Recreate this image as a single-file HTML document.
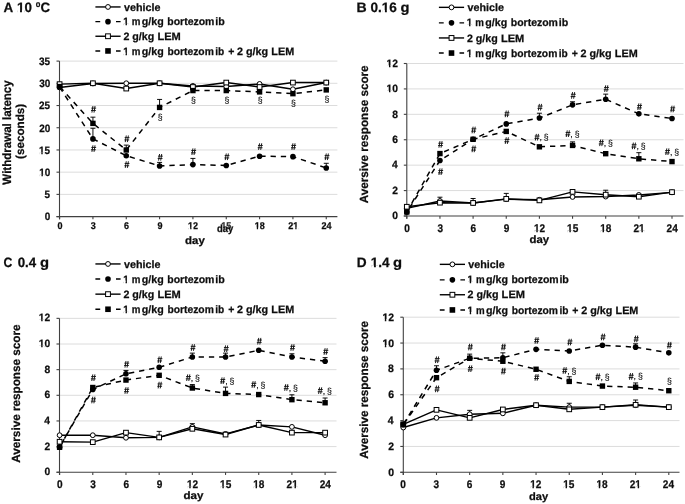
<!DOCTYPE html>
<html><head><meta charset="utf-8"><style>
html,body{margin:0;padding:0;background:#fff;}
body{width:685px;height:504px;overflow:hidden;}
#w{width:685px;height:504px;background:#fff;will-change:transform;}
svg{display:block;}
text{font-family:"Liberation Sans", sans-serif;fill:#0d0d0d;text-rendering:geometricPrecision;}
.tk,.lg,.ti,.at{font-weight:bold;stroke:#0d0d0d;stroke-width:0.25px;}
.an{font-size:8.7px;fill:#1a1a1a;stroke:#1a1a1a;stroke-width:0.2px;}
.gr{stroke:#dcdcdc;stroke-width:1;}
.ax{stroke:#404040;stroke-width:1.1;fill:none;}
.sl{fill:none;stroke:#000;stroke-width:1.45;stroke-linejoin:round;}
.dl{fill:none;stroke:#000;stroke-width:1.5;stroke-dasharray:5.3 4.95;}
.eb{fill:none;stroke:#000;stroke-width:0.95;}
.wm{fill:#fff;stroke:#000;stroke-width:1;}
.lgl{fill:none;stroke:#000;stroke-width:1.4;}
</style></head><body><div id="w">
<svg width="685" height="504" viewBox="0 0 685 504">
<defs><symbol id="hs" overflow="visible"><path d="M-0.6 -3.3L-1.6 3.3M1.5 -3.3L0.5 3.3M-2.2 -1.15H2.6M-2.5 1.15H2.3" fill="none" stroke="#111" stroke-width="0.95"/></symbol></defs>
<rect width="685" height="504" fill="#fff"/>
<line x1="60.1" y1="194.39" x2="337.4" y2="194.39" class="gr"/>
<line x1="60.1" y1="172.17" x2="337.4" y2="172.17" class="gr"/>
<line x1="60.1" y1="149.96" x2="337.4" y2="149.96" class="gr"/>
<line x1="60.1" y1="127.74" x2="337.4" y2="127.74" class="gr"/>
<line x1="60.1" y1="105.53" x2="337.4" y2="105.53" class="gr"/>
<line x1="60.1" y1="83.31" x2="337.4" y2="83.31" class="gr"/>
<line x1="60.1" y1="61.1" x2="337.4" y2="61.1" class="gr"/>
<line x1="59.5" y1="61.1" x2="59.5" y2="219.3" class="ax"/>
<line x1="56.5" y1="216.6" x2="337.4" y2="216.6" class="ax"/>
<line x1="56.5" y1="216.6" x2="59.5" y2="216.6" class="ax"/>
<text x="44.68" y="220.44" class="tk" font-size="10.7" textLength="5.53" lengthAdjust="spacingAndGlyphs">0</text>
<line x1="56.5" y1="194.39" x2="59.5" y2="194.39" class="ax"/>
<text x="44.53" y="198.23" class="tk" font-size="10.7" textLength="5.53" lengthAdjust="spacingAndGlyphs">5</text>
<line x1="56.5" y1="172.17" x2="59.5" y2="172.17" class="ax"/>
<text x="39.15" y="176.02" class="tk" font-size="10.7" textLength="11.07" lengthAdjust="spacingAndGlyphs">10</text><rect x="39.33" y="174.51" width="2.13" height="2.49" fill="#fff"/><rect x="42.86" y="174.51" width="2" height="2.49" fill="#fff"/>
<line x1="56.5" y1="149.96" x2="59.5" y2="149.96" class="ax"/>
<text x="39" y="153.8" class="tk" font-size="10.7" textLength="11.07" lengthAdjust="spacingAndGlyphs">15</text><rect x="39.18" y="152.31" width="2.13" height="2.69" fill="#fff"/><rect x="42.71" y="152.31" width="2" height="2.69" fill="#fff"/>
<line x1="56.5" y1="127.74" x2="59.5" y2="127.74" class="ax"/>
<text x="39.15" y="131.59" class="tk" font-size="10.7" textLength="11.07" lengthAdjust="spacingAndGlyphs">20</text>
<line x1="56.5" y1="105.53" x2="59.5" y2="105.53" class="ax"/>
<text x="39" y="109.37" class="tk" font-size="10.7" textLength="11.07" lengthAdjust="spacingAndGlyphs">25</text>
<line x1="56.5" y1="83.31" x2="59.5" y2="83.31" class="ax"/>
<text x="39.15" y="87.16" class="tk" font-size="10.7" textLength="11.07" lengthAdjust="spacingAndGlyphs">30</text>
<line x1="56.5" y1="61.1" x2="59.5" y2="61.1" class="ax"/>
<text x="39" y="64.94" class="tk" font-size="10.7" textLength="11.07" lengthAdjust="spacingAndGlyphs">35</text>
<line x1="59.6" y1="216.6" x2="59.6" y2="219.3" class="ax"/>
<text x="57.4" y="229.13" class="tk" font-size="9.8" textLength="5.01" lengthAdjust="spacingAndGlyphs">0</text>
<line x1="92.93" y1="216.6" x2="92.93" y2="219.3" class="ax"/>
<text x="90.77" y="229.13" class="tk" font-size="9.8" textLength="5.01" lengthAdjust="spacingAndGlyphs">3</text>
<line x1="126.26" y1="216.6" x2="126.26" y2="219.3" class="ax"/>
<text x="124.06" y="229.13" class="tk" font-size="9.8" textLength="5.01" lengthAdjust="spacingAndGlyphs">6</text>
<line x1="159.59" y1="216.6" x2="159.59" y2="219.3" class="ax"/>
<text x="157.39" y="229.13" class="tk" font-size="9.8" textLength="5.01" lengthAdjust="spacingAndGlyphs">9</text>
<line x1="192.92" y1="216.6" x2="192.92" y2="219.3" class="ax"/>
<text x="188.11" y="229.13" class="tk" font-size="9.8" textLength="10.03" lengthAdjust="spacingAndGlyphs">12</text><rect x="188.23" y="227.6" width="1.97" height="3.4" fill="#fff"/><rect x="191.47" y="227.6" width="1.85" height="3.4" fill="#fff"/>
<line x1="226.26" y1="216.6" x2="226.26" y2="219.3" class="ax"/>
<text x="221.37" y="229.13" class="tk" style="fill:#333;stroke:#333" font-size="9.8" textLength="10.03" lengthAdjust="spacingAndGlyphs">15</text><rect x="221.49" y="227.6" width="1.97" height="3.4" fill="#fff"/><rect x="224.73" y="227.6" width="1.85" height="3.4" fill="#fff"/>
<line x1="259.59" y1="216.6" x2="259.59" y2="219.3" class="ax"/>
<text x="254.73" y="229.13" class="tk" font-size="9.8" textLength="10.03" lengthAdjust="spacingAndGlyphs">18</text><rect x="254.84" y="227.6" width="1.97" height="3.4" fill="#fff"/><rect x="258.09" y="227.6" width="1.85" height="3.4" fill="#fff"/>
<line x1="292.92" y1="216.6" x2="292.92" y2="219.3" class="ax"/>
<text x="288.17" y="229.13" class="tk" font-size="9.8" textLength="10.03" lengthAdjust="spacingAndGlyphs">21</text><rect x="293.3" y="227.6" width="1.97" height="3.4" fill="#fff"/><rect x="296.55" y="227.6" width="1.85" height="3.4" fill="#fff"/>
<line x1="326.25" y1="216.6" x2="326.25" y2="219.3" class="ax"/>
<text x="321.41" y="229.13" class="tk" font-size="9.8" textLength="10.03" lengthAdjust="spacingAndGlyphs">24</text>
<polyline points="59.6,87.46 92.93,83.47 126.26,83.25 159.59,83.25 192.92,85.91 226.26,86.58 259.59,83.91 292.92,89.24 326.25,82.58" class="sl"/>
<polyline points="59.6,84.14 92.93,83.25 126.26,88.57 159.59,83.25 192.92,87.02 226.26,82.58 259.59,87.02 292.92,82.58 326.25,82.58" class="sl"/>
<polyline points="59.6,87.02 92.93,138.9 126.26,155.75 159.59,165.95 192.92,164.62 226.26,165.51 259.59,156.19 292.92,156.64 326.25,167.94" class="dl" stroke-dashoffset="10.08"/>
<polyline points="59.6,86.58 92.93,123.38 126.26,149.99 159.59,107.42 192.92,90.57 226.26,90.57 259.59,91.9 292.92,93.67 326.25,89.9" class="dl" stroke-dashoffset="9.78"/>
<path d="M92.93 138.9V128.26M90.43 128.26H95.43" class="eb"/>
<path d="M159.59 165.95V162.4M157.09 162.4H162.09" class="eb"/>
<path d="M192.92 164.62V158.41M190.42 158.41H195.42" class="eb"/>
<path d="M326.25 167.94V163.29M323.75 163.29H328.75" class="eb"/>
<path d="M92.93 123.38V117.17M90.43 117.17H95.43" class="eb"/>
<path d="M126.26 149.99V145.11M123.76 145.11H128.76" class="eb"/>
<path d="M159.59 107.42V99.43M157.09 99.43H162.09" class="eb"/>
<circle cx="59.6" cy="87.46" r="2.4" class="wm"/>
<circle cx="92.93" cy="83.47" r="2.4" class="wm"/>
<circle cx="126.26" cy="83.25" r="2.4" class="wm"/>
<circle cx="159.59" cy="83.25" r="2.4" class="wm"/>
<circle cx="192.92" cy="85.91" r="2.4" class="wm"/>
<circle cx="226.26" cy="86.58" r="2.4" class="wm"/>
<circle cx="259.59" cy="83.91" r="2.4" class="wm"/>
<circle cx="292.92" cy="89.24" r="2.4" class="wm"/>
<circle cx="326.25" cy="82.58" r="2.4" class="wm"/>
<rect x="57.25" y="81.79" width="4.7" height="4.7" class="wm"/>
<rect x="90.58" y="80.9" width="4.7" height="4.7" class="wm"/>
<rect x="123.91" y="86.22" width="4.7" height="4.7" class="wm"/>
<rect x="157.24" y="80.9" width="4.7" height="4.7" class="wm"/>
<rect x="190.57" y="84.67" width="4.7" height="4.7" class="wm"/>
<rect x="223.91" y="80.23" width="4.7" height="4.7" class="wm"/>
<rect x="257.24" y="84.67" width="4.7" height="4.7" class="wm"/>
<rect x="290.57" y="80.23" width="4.7" height="4.7" class="wm"/>
<rect x="323.9" y="80.23" width="4.7" height="4.7" class="wm"/>
<circle cx="59.6" cy="87.02" r="2.8"/>
<circle cx="92.93" cy="138.9" r="2.8"/>
<circle cx="126.26" cy="155.75" r="2.8"/>
<circle cx="159.59" cy="165.95" r="2.8"/>
<circle cx="192.92" cy="164.62" r="2.8"/>
<circle cx="226.26" cy="165.51" r="2.8"/>
<circle cx="259.59" cy="156.19" r="2.8"/>
<circle cx="292.92" cy="156.64" r="2.8"/>
<circle cx="326.25" cy="167.94" r="2.8"/>
<rect x="56.9" y="83.88" width="5.4" height="5.4"/>
<rect x="90.23" y="120.68" width="5.4" height="5.4"/>
<rect x="123.56" y="147.29" width="5.4" height="5.4"/>
<rect x="156.89" y="104.72" width="5.4" height="5.4"/>
<rect x="190.22" y="87.87" width="5.4" height="5.4"/>
<rect x="223.56" y="87.87" width="5.4" height="5.4"/>
<rect x="256.89" y="89.2" width="5.4" height="5.4"/>
<rect x="290.22" y="90.97" width="5.4" height="5.4"/>
<rect x="323.55" y="87.2" width="5.4" height="5.4"/>
<use href="#hs" x="93.53" y="109.3"/>
<use href="#hs" x="93.53" y="148.6"/>
<use href="#hs" x="126.86" y="138.8"/>
<use href="#hs" x="126.86" y="164.6"/>
<use href="#hs" x="160.19" y="157.3"/>
<text x="160.19" y="119.8" class="an" text-anchor="middle">§</text>
<use href="#hs" x="193.52" y="151.7"/>
<use href="#hs" x="226.86" y="156.8"/>
<use href="#hs" x="260.19" y="146.6"/>
<use href="#hs" x="293.52" y="146.6"/>
<use href="#hs" x="326.85" y="156.8"/>
<text x="193.52" y="103.1" class="an" text-anchor="middle">§</text>
<text x="226.86" y="103.3" class="an" text-anchor="middle">§</text>
<text x="260.19" y="103.2" class="an" text-anchor="middle">§</text>
<text x="293.52" y="105.7" class="an" text-anchor="middle">§</text>
<text x="326.85" y="102" class="an" text-anchor="middle">§</text>
<line x1="95.4" y1="6.95" x2="120.6" y2="6.95" class="lgl"/>
<circle cx="108" cy="6.95" r="2.4" class="wm"/>
<text x="124" y="10.5" class="lg" font-size="10.7" textLength="36.44" lengthAdjust="spacingAndGlyphs">vehicle</text>
<path d="M95.4 21.65H100.2M116 21.65H120.6" class="lgl"/>
<circle cx="108" cy="21.65" r="2.8"/>
<text x="123.26" y="25.2" class="lg" font-size="10.7" textLength="5.5" lengthAdjust="spacingAndGlyphs">1</text><rect x="123.43" y="23.51" width="2.12" height="3.49" fill="#fff"/><rect x="126.94" y="23.51" width="1.99" height="3.49" fill="#fff"/>
<text x="131.72" y="25.2" class="lg" font-size="10.7" textLength="8.66" lengthAdjust="spacingAndGlyphs">m</text>
<text x="141.82" y="25.2" class="lg" font-size="10.7" textLength="21.93" lengthAdjust="spacingAndGlyphs">g/kg</text>
<text x="167.27" y="25.2" class="lg" font-size="10.7" textLength="47.16" lengthAdjust="spacingAndGlyphs">bortezom</text>
<text x="215.21" y="25.2" class="lg" font-size="10.7" textLength="9.46" lengthAdjust="spacingAndGlyphs">ib</text>
<line x1="95.4" y1="36.25" x2="120.6" y2="36.25" class="lgl"/>
<rect x="105.6" y="33.85" width="4.8" height="4.8" class="wm"/>
<text x="123.38" y="39.8" class="lg" font-size="10.7" textLength="30.86" lengthAdjust="spacingAndGlyphs">2 g/kg</text>
<text x="157.43" y="39.8" class="lg" font-size="10.7" textLength="23.35" lengthAdjust="spacingAndGlyphs">LEM</text>
<path d="M95.4 50.95H100.2M116 50.95H120.6" class="lgl"/>
<rect x="105.2" y="48.15" width="5.6" height="5.6"/>
<text x="123.26" y="54.5" class="lg" font-size="10.7" textLength="5.5" lengthAdjust="spacingAndGlyphs">1</text><rect x="123.43" y="52.51" width="2.12" height="3.49" fill="#fff"/><rect x="126.94" y="52.51" width="1.99" height="3.49" fill="#fff"/>
<text x="131.72" y="54.5" class="lg" font-size="10.7" textLength="8.66" lengthAdjust="spacingAndGlyphs">m</text>
<text x="141.82" y="54.5" class="lg" font-size="10.7" textLength="21.93" lengthAdjust="spacingAndGlyphs">g/kg</text>
<text x="167.48" y="54.5" class="lg" font-size="10.7" textLength="46.34" lengthAdjust="spacingAndGlyphs">bortezom</text>
<text x="215.24" y="54.5" class="lg" font-size="10.7" textLength="9" lengthAdjust="spacingAndGlyphs">ib</text>
<text x="228.13" y="54.5" class="lg" font-size="10.7" textLength="6.13" lengthAdjust="spacingAndGlyphs">+</text>
<text x="236.97" y="54.5" class="lg" font-size="10.7" textLength="31.18" lengthAdjust="spacingAndGlyphs">2 g/kg</text>
<text x="271.35" y="54.5" class="lg" font-size="10.7" textLength="22.82" lengthAdjust="spacingAndGlyphs">LEM</text>
<line x1="407.4" y1="190.58" x2="683.5" y2="190.58" class="gr"/>
<line x1="407.4" y1="165.17" x2="683.5" y2="165.17" class="gr"/>
<line x1="407.4" y1="139.75" x2="683.5" y2="139.75" class="gr"/>
<line x1="407.4" y1="114.33" x2="683.5" y2="114.33" class="gr"/>
<line x1="407.4" y1="88.92" x2="683.5" y2="88.92" class="gr"/>
<line x1="407.4" y1="63.5" x2="683.5" y2="63.5" class="gr"/>
<line x1="406.8" y1="63.5" x2="406.8" y2="218.7" class="ax"/>
<line x1="403.8" y1="216" x2="683.5" y2="216" class="ax"/>
<line x1="403.8" y1="216" x2="406.8" y2="216" class="ax"/>
<text x="392.3" y="219.21" class="tk" font-size="10.6" textLength="5.72" lengthAdjust="spacingAndGlyphs">0</text>
<line x1="403.8" y1="190.58" x2="406.8" y2="190.58" class="ax"/>
<text x="392.3" y="193.79" class="tk" font-size="10.6" textLength="5.72" lengthAdjust="spacingAndGlyphs">2</text>
<line x1="403.8" y1="165.17" x2="406.8" y2="165.17" class="ax"/>
<text x="391.94" y="168.38" class="tk" font-size="10.6" textLength="5.72" lengthAdjust="spacingAndGlyphs">4</text>
<line x1="403.8" y1="139.75" x2="406.8" y2="139.75" class="ax"/>
<text x="392.25" y="142.96" class="tk" font-size="10.6" textLength="5.72" lengthAdjust="spacingAndGlyphs">6</text>
<line x1="403.8" y1="114.33" x2="406.8" y2="114.33" class="ax"/>
<text x="392.2" y="117.54" class="tk" font-size="10.6" textLength="5.72" lengthAdjust="spacingAndGlyphs">8</text>
<line x1="403.8" y1="88.92" x2="406.8" y2="88.92" class="ax"/>
<text x="386.6" y="92.13" class="tk" font-size="10.6" textLength="11.44" lengthAdjust="spacingAndGlyphs">10</text><rect x="386.8" y="90.52" width="2.18" height="3.48" fill="#fff"/><rect x="390.43" y="90.52" width="2.05" height="3.48" fill="#fff"/>
<line x1="403.8" y1="63.5" x2="406.8" y2="63.5" class="ax"/>
<text x="386.6" y="66.71" class="tk" font-size="10.6" textLength="11.44" lengthAdjust="spacingAndGlyphs">12</text><rect x="386.8" y="65.23" width="2.18" height="2.77" fill="#fff"/><rect x="390.43" y="65.23" width="2.05" height="2.77" fill="#fff"/>
<line x1="406.8" y1="216" x2="406.8" y2="218.7" class="ax"/>
<text x="404.3" y="232.02" class="tk" font-size="11.2" textLength="5.61" lengthAdjust="spacingAndGlyphs">0</text>
<line x1="439.95" y1="216" x2="439.95" y2="218.7" class="ax"/>
<text x="437.5" y="232.02" class="tk" font-size="11.2" textLength="5.61" lengthAdjust="spacingAndGlyphs">3</text>
<line x1="473.1" y1="216" x2="473.1" y2="218.7" class="ax"/>
<text x="470.6" y="232.02" class="tk" font-size="11.2" textLength="5.61" lengthAdjust="spacingAndGlyphs">6</text>
<line x1="506.25" y1="216" x2="506.25" y2="218.7" class="ax"/>
<text x="503.75" y="232.02" class="tk" font-size="11.2" textLength="5.61" lengthAdjust="spacingAndGlyphs">9</text>
<line x1="539.4" y1="216" x2="539.4" y2="218.7" class="ax"/>
<text x="533.98" y="232.02" class="tk" font-size="11.2" textLength="11.21" lengthAdjust="spacingAndGlyphs">12</text><rect x="534.16" y="230.46" width="2.15" height="2.54" fill="#fff"/><rect x="537.74" y="230.46" width="2.02" height="2.54" fill="#fff"/>
<line x1="572.55" y1="216" x2="572.55" y2="218.7" class="ax"/>
<text x="567.05" y="232.02" class="tk" font-size="11.2" textLength="11.21" lengthAdjust="spacingAndGlyphs">15</text><rect x="567.24" y="230.46" width="2.15" height="2.54" fill="#fff"/><rect x="570.81" y="230.46" width="2.02" height="2.54" fill="#fff"/>
<line x1="605.7" y1="216" x2="605.7" y2="218.7" class="ax"/>
<text x="600.23" y="232.02" class="tk" font-size="11.2" textLength="11.21" lengthAdjust="spacingAndGlyphs">18</text><rect x="600.41" y="230.46" width="2.15" height="2.54" fill="#fff"/><rect x="603.98" y="230.46" width="2.02" height="2.54" fill="#fff"/>
<line x1="638.85" y1="216" x2="638.85" y2="218.7" class="ax"/>
<text x="633.51" y="232.02" class="tk" font-size="11.2" textLength="11.21" lengthAdjust="spacingAndGlyphs">21</text><rect x="639.3" y="230.46" width="2.15" height="2.54" fill="#fff"/><rect x="642.87" y="230.46" width="2.02" height="2.54" fill="#fff"/>
<line x1="672" y1="216" x2="672" y2="218.7" class="ax"/>
<text x="666.55" y="232.02" class="tk" font-size="11.2" textLength="11.21" lengthAdjust="spacingAndGlyphs">24</text>
<polyline points="406.8,208.41 439.95,201.03 473.1,202.94 506.25,199.12 539.4,199.76 572.55,196.96 605.7,196.58 638.85,194.92 672,192.38" class="sl"/>
<polyline points="406.8,206.76 439.95,202.68 473.1,202.94 506.25,198.87 539.4,200.39 572.55,191.87 605.7,194.67 638.85,196.7 672,192.12" class="sl"/>
<polyline points="406.8,211.97 439.95,160.56 473.1,139.31 506.25,123.92 539.4,118.06 572.55,104.83 605.7,99.23 638.85,113.86 672,118.44" class="dl" stroke-dashoffset="5.33"/>
<polyline points="406.8,211.97 439.95,153.57 473.1,139.31 506.25,131.42 539.4,146.82 572.55,145.42 605.7,153.69 638.85,158.78 672,161.58" class="dl" stroke-dashoffset="0.03"/>
<path d="M439.95 201.03V197.21M437.45 197.21H442.45" class="eb"/>
<path d="M506.25 199.12V193.4M503.75 193.4H508.75" class="eb"/>
<path d="M605.7 196.58V190.21M603.2 190.21H608.2" class="eb"/>
<path d="M473.1 202.94V198.49M470.6 198.49H475.6" class="eb"/>
<path d="M539.4 118.06V113.23M536.9 113.23H541.9" class="eb"/>
<path d="M572.55 104.83V101.78M570.05 101.78H575.05" class="eb"/>
<path d="M605.7 99.23V94.14M603.2 94.14H608.2" class="eb"/>
<path d="M572.55 145.42V141.86M570.05 141.86H575.05" class="eb"/>
<path d="M638.85 158.78V152.68M636.35 152.68H641.35" class="eb"/>
<circle cx="406.8" cy="208.41" r="2.4" class="wm"/>
<circle cx="439.95" cy="201.03" r="2.4" class="wm"/>
<circle cx="473.1" cy="202.94" r="2.4" class="wm"/>
<circle cx="506.25" cy="199.12" r="2.4" class="wm"/>
<circle cx="539.4" cy="199.76" r="2.4" class="wm"/>
<circle cx="572.55" cy="196.96" r="2.4" class="wm"/>
<circle cx="605.7" cy="196.58" r="2.4" class="wm"/>
<circle cx="638.85" cy="194.92" r="2.4" class="wm"/>
<circle cx="672" cy="192.38" r="2.4" class="wm"/>
<rect x="404.45" y="204.41" width="4.7" height="4.7" class="wm"/>
<rect x="437.6" y="200.33" width="4.7" height="4.7" class="wm"/>
<rect x="470.75" y="200.59" width="4.7" height="4.7" class="wm"/>
<rect x="503.9" y="196.52" width="4.7" height="4.7" class="wm"/>
<rect x="537.05" y="198.04" width="4.7" height="4.7" class="wm"/>
<rect x="570.2" y="189.52" width="4.7" height="4.7" class="wm"/>
<rect x="603.35" y="192.32" width="4.7" height="4.7" class="wm"/>
<rect x="636.5" y="194.35" width="4.7" height="4.7" class="wm"/>
<rect x="669.65" y="189.77" width="4.7" height="4.7" class="wm"/>
<circle cx="406.8" cy="211.97" r="2.8"/>
<circle cx="439.95" cy="160.56" r="2.8"/>
<circle cx="473.1" cy="139.31" r="2.8"/>
<circle cx="506.25" cy="123.92" r="2.8"/>
<circle cx="539.4" cy="118.06" r="2.8"/>
<circle cx="572.55" cy="104.83" r="2.8"/>
<circle cx="605.7" cy="99.23" r="2.8"/>
<circle cx="638.85" cy="113.86" r="2.8"/>
<circle cx="672" cy="118.44" r="2.8"/>
<rect x="404.1" y="209.27" width="5.4" height="5.4"/>
<rect x="437.25" y="150.87" width="5.4" height="5.4"/>
<rect x="470.4" y="136.61" width="5.4" height="5.4"/>
<rect x="503.55" y="128.72" width="5.4" height="5.4"/>
<rect x="536.7" y="144.12" width="5.4" height="5.4"/>
<rect x="569.85" y="142.72" width="5.4" height="5.4"/>
<rect x="603" y="150.99" width="5.4" height="5.4"/>
<rect x="636.15" y="156.08" width="5.4" height="5.4"/>
<rect x="669.3" y="158.88" width="5.4" height="5.4"/>
<use href="#hs" x="440.55" y="144.4"/>
<use href="#hs" x="440.55" y="171.7"/>
<use href="#hs" x="473.7" y="130"/>
<use href="#hs" x="473.7" y="148.9"/>
<use href="#hs" x="506.85" y="113.9"/>
<use href="#hs" x="506.85" y="140.6"/>
<use href="#hs" x="540" y="107.2"/>
<use href="#hs" x="573.15" y="95.4"/>
<use href="#hs" x="606.3" y="88.6"/>
<use href="#hs" x="639.45" y="106.7"/>
<use href="#hs" x="672.6" y="109"/>
<use href="#hs" x="536.95" y="137.2"/>
<text x="539.45" y="140.2" class="an">,</text>
<text x="546.15" y="140.2" class="an" text-anchor="middle">§</text>
<use href="#hs" x="567.85" y="133.7"/>
<text x="570.35" y="136.7" class="an">,</text>
<text x="577.05" y="136.7" class="an" text-anchor="middle">§</text>
<use href="#hs" x="601.3" y="142.8"/>
<text x="603.8" y="145.8" class="an">,</text>
<text x="610.5" y="145.8" class="an" text-anchor="middle">§</text>
<use href="#hs" x="633.95" y="145.9"/>
<text x="636.45" y="148.9" class="an">,</text>
<text x="643.15" y="148.9" class="an" text-anchor="middle">§</text>
<use href="#hs" x="667.4" y="151.7"/>
<text x="669.9" y="154.7" class="an">,</text>
<text x="676.6" y="154.7" class="an" text-anchor="middle">§</text>
<line x1="438.9" y1="7.35" x2="464.1" y2="7.35" class="lgl"/>
<circle cx="451.5" cy="7.35" r="2.4" class="wm"/>
<text x="467.5" y="10.9" class="lg" font-size="10.7" textLength="36.44" lengthAdjust="spacingAndGlyphs">vehicle</text>
<path d="M438.9 22.85H443.7M459.5 22.85H464.1" class="lgl"/>
<circle cx="451.5" cy="22.85" r="2.8"/>
<text x="466.76" y="26.4" class="lg" font-size="10.7" textLength="5.5" lengthAdjust="spacingAndGlyphs">1</text><rect x="466.93" y="24.51" width="2.12" height="3.49" fill="#fff"/><rect x="470.44" y="24.51" width="1.99" height="3.49" fill="#fff"/>
<text x="475.22" y="26.4" class="lg" font-size="10.7" textLength="8.66" lengthAdjust="spacingAndGlyphs">m</text>
<text x="485.32" y="26.4" class="lg" font-size="10.7" textLength="21.93" lengthAdjust="spacingAndGlyphs">g/kg</text>
<text x="510.77" y="26.4" class="lg" font-size="10.7" textLength="47.16" lengthAdjust="spacingAndGlyphs">bortezom</text>
<text x="558.71" y="26.4" class="lg" font-size="10.7" textLength="9.46" lengthAdjust="spacingAndGlyphs">ib</text>
<line x1="438.9" y1="37.95" x2="464.1" y2="37.95" class="lgl"/>
<rect x="449.1" y="35.55" width="4.8" height="4.8" class="wm"/>
<text x="466.88" y="41.5" class="lg" font-size="10.7" textLength="30.86" lengthAdjust="spacingAndGlyphs">2 g/kg</text>
<text x="500.93" y="41.5" class="lg" font-size="10.7" textLength="23.35" lengthAdjust="spacingAndGlyphs">LEM</text>
<path d="M438.9 53.05H443.7M459.5 53.05H464.1" class="lgl"/>
<rect x="448.7" y="50.25" width="5.6" height="5.6"/>
<text x="466.76" y="56.6" class="lg" font-size="10.7" textLength="5.5" lengthAdjust="spacingAndGlyphs">1</text><rect x="466.93" y="55.11" width="2.12" height="2.89" fill="#fff"/><rect x="470.44" y="55.11" width="1.99" height="2.89" fill="#fff"/>
<text x="475.22" y="56.6" class="lg" font-size="10.7" textLength="8.66" lengthAdjust="spacingAndGlyphs">m</text>
<text x="485.32" y="56.6" class="lg" font-size="10.7" textLength="21.93" lengthAdjust="spacingAndGlyphs">g/kg</text>
<text x="510.98" y="56.6" class="lg" font-size="10.7" textLength="46.34" lengthAdjust="spacingAndGlyphs">bortezom</text>
<text x="558.74" y="56.6" class="lg" font-size="10.7" textLength="9" lengthAdjust="spacingAndGlyphs">ib</text>
<text x="571.63" y="56.6" class="lg" font-size="10.7" textLength="6.13" lengthAdjust="spacingAndGlyphs">+</text>
<text x="580.47" y="56.6" class="lg" font-size="10.7" textLength="31.18" lengthAdjust="spacingAndGlyphs">2 g/kg</text>
<text x="614.85" y="56.6" class="lg" font-size="10.7" textLength="22.82" lengthAdjust="spacingAndGlyphs">LEM</text>
<line x1="60.1" y1="446.6" x2="336.5" y2="446.6" class="gr"/>
<line x1="60.1" y1="420.95" x2="336.5" y2="420.95" class="gr"/>
<line x1="60.1" y1="395.3" x2="336.5" y2="395.3" class="gr"/>
<line x1="60.1" y1="369.65" x2="336.5" y2="369.65" class="gr"/>
<line x1="60.1" y1="344" x2="336.5" y2="344" class="gr"/>
<line x1="60.1" y1="318.35" x2="336.5" y2="318.35" class="gr"/>
<line x1="59.5" y1="318.35" x2="59.5" y2="474.95" class="ax"/>
<line x1="56.5" y1="472.25" x2="336.5" y2="472.25" class="ax"/>
<line x1="56.5" y1="472.25" x2="59.5" y2="472.25" class="ax"/>
<text x="44.5" y="475.36" class="tk" font-size="10.6" textLength="5.72" lengthAdjust="spacingAndGlyphs">0</text>
<line x1="56.5" y1="446.6" x2="59.5" y2="446.6" class="ax"/>
<text x="44.5" y="449.71" class="tk" font-size="10.6" textLength="5.72" lengthAdjust="spacingAndGlyphs">2</text>
<line x1="56.5" y1="420.95" x2="59.5" y2="420.95" class="ax"/>
<text x="44.14" y="424.06" class="tk" font-size="10.6" textLength="5.72" lengthAdjust="spacingAndGlyphs">4</text>
<line x1="56.5" y1="395.3" x2="59.5" y2="395.3" class="ax"/>
<text x="44.45" y="398.41" class="tk" font-size="10.6" textLength="5.72" lengthAdjust="spacingAndGlyphs">6</text>
<line x1="56.5" y1="369.65" x2="59.5" y2="369.65" class="ax"/>
<text x="44.4" y="372.76" class="tk" font-size="10.6" textLength="5.72" lengthAdjust="spacingAndGlyphs">8</text>
<line x1="56.5" y1="344" x2="59.5" y2="344" class="ax"/>
<text x="38.8" y="347.11" class="tk" font-size="10.6" textLength="11.44" lengthAdjust="spacingAndGlyphs">10</text><rect x="39" y="345.52" width="2.18" height="3.48" fill="#fff"/><rect x="42.63" y="345.52" width="2.05" height="3.48" fill="#fff"/>
<line x1="56.5" y1="318.35" x2="59.5" y2="318.35" class="ax"/>
<text x="38.8" y="321.46" class="tk" font-size="10.6" textLength="11.44" lengthAdjust="spacingAndGlyphs">12</text><rect x="39" y="319.52" width="2.18" height="3.48" fill="#fff"/><rect x="42.63" y="319.52" width="2.05" height="3.48" fill="#fff"/>
<line x1="59.6" y1="472.25" x2="59.6" y2="474.95" class="ax"/>
<text x="57.1" y="487.82" class="tk" font-size="11.2" textLength="5.61" lengthAdjust="spacingAndGlyphs">0</text>
<line x1="92.79" y1="472.25" x2="92.79" y2="474.95" class="ax"/>
<text x="90.34" y="487.82" class="tk" font-size="11.2" textLength="5.61" lengthAdjust="spacingAndGlyphs">3</text>
<line x1="125.97" y1="472.25" x2="125.97" y2="474.95" class="ax"/>
<text x="123.48" y="487.82" class="tk" font-size="11.2" textLength="5.61" lengthAdjust="spacingAndGlyphs">6</text>
<line x1="159.16" y1="472.25" x2="159.16" y2="474.95" class="ax"/>
<text x="156.67" y="487.82" class="tk" font-size="11.2" textLength="5.61" lengthAdjust="spacingAndGlyphs">9</text>
<line x1="192.35" y1="472.25" x2="192.35" y2="474.95" class="ax"/>
<text x="186.93" y="487.82" class="tk" font-size="11.2" textLength="11.21" lengthAdjust="spacingAndGlyphs">12</text><rect x="187.11" y="486.28" width="2.15" height="2.72" fill="#fff"/><rect x="190.69" y="486.28" width="2.02" height="2.72" fill="#fff"/>
<line x1="225.54" y1="472.25" x2="225.54" y2="474.95" class="ax"/>
<text x="220.04" y="487.82" class="tk" font-size="11.2" textLength="11.21" lengthAdjust="spacingAndGlyphs">15</text><rect x="220.23" y="486.28" width="2.15" height="2.72" fill="#fff"/><rect x="223.8" y="486.28" width="2.02" height="2.72" fill="#fff"/>
<line x1="258.73" y1="472.25" x2="258.73" y2="474.95" class="ax"/>
<text x="253.25" y="487.82" class="tk" font-size="11.2" textLength="11.21" lengthAdjust="spacingAndGlyphs">18</text><rect x="253.44" y="486.28" width="2.15" height="2.72" fill="#fff"/><rect x="257.01" y="486.28" width="2.02" height="2.72" fill="#fff"/>
<line x1="291.91" y1="472.25" x2="291.91" y2="474.95" class="ax"/>
<text x="286.57" y="487.82" class="tk" font-size="11.2" textLength="11.21" lengthAdjust="spacingAndGlyphs">21</text><rect x="292.36" y="486.28" width="2.15" height="2.72" fill="#fff"/><rect x="295.93" y="486.28" width="2.02" height="2.72" fill="#fff"/>
<line x1="325.1" y1="472.25" x2="325.1" y2="474.95" class="ax"/>
<text x="319.65" y="487.82" class="tk" font-size="11.2" textLength="11.21" lengthAdjust="spacingAndGlyphs">24</text>
<polyline points="59.6,435.21 92.79,435.21 125.97,437.77 159.16,437.39 192.35,426.87 225.54,433.92 258.73,424.95 291.91,426.87 325.1,435.21" class="sl"/>
<polyline points="59.6,441.75 92.79,442.13 125.97,432.64 159.16,437.39 192.35,428.79 225.54,434.57 258.73,424.95 291.91,432.64 325.1,432.64" class="sl"/>
<polyline points="59.6,447.13 92.79,389.55 125.97,373.78 159.16,367.24 192.35,356.97 225.54,356.97 258.73,350.31 291.91,356.97 325.1,361.21" class="dl" stroke-dashoffset="6.43"/>
<polyline points="59.6,447.26 92.79,387.5 125.97,380.06 159.16,375.31 192.35,388.01 225.54,393.4 258.73,394.55 291.91,399.68 325.1,402.76" class="dl" stroke-dashoffset="0.3"/>
<path d="M159.16 437.39V431.36M156.66 431.36H161.66" class="eb"/>
<path d="M192.35 426.87V423.66M189.85 423.66H194.85" class="eb"/>
<path d="M258.73 424.95V420.46M256.23 420.46H261.23" class="eb"/>
<path d="M125.97 373.78V370.44M123.47 370.44H128.47" class="eb"/>
<path d="M192.35 356.97V353.13M189.85 353.13H194.85" class="eb"/>
<path d="M225.54 356.97V353.13M223.04 353.13H228.04" class="eb"/>
<path d="M291.91 356.97V353.77M289.41 353.77H294.41" class="eb"/>
<path d="M325.1 361.21V357.62M322.6 357.62H327.6" class="eb"/>
<path d="M192.35 388.01V384.55M189.85 384.55H194.85" class="eb"/>
<path d="M225.54 393.4V387.11M223.04 387.11H228.04" class="eb"/>
<path d="M291.91 399.68V394.81M289.41 394.81H294.41" class="eb"/>
<path d="M325.1 402.76V398.01M322.6 398.01H327.6" class="eb"/>
<circle cx="59.6" cy="435.21" r="2.4" class="wm"/>
<circle cx="92.79" cy="435.21" r="2.4" class="wm"/>
<circle cx="125.97" cy="437.77" r="2.4" class="wm"/>
<circle cx="159.16" cy="437.39" r="2.4" class="wm"/>
<circle cx="192.35" cy="426.87" r="2.4" class="wm"/>
<circle cx="225.54" cy="433.92" r="2.4" class="wm"/>
<circle cx="258.73" cy="424.95" r="2.4" class="wm"/>
<circle cx="291.91" cy="426.87" r="2.4" class="wm"/>
<circle cx="325.1" cy="435.21" r="2.4" class="wm"/>
<rect x="57.25" y="439.4" width="4.7" height="4.7" class="wm"/>
<rect x="90.44" y="439.78" width="4.7" height="4.7" class="wm"/>
<rect x="123.62" y="430.29" width="4.7" height="4.7" class="wm"/>
<rect x="156.81" y="435.04" width="4.7" height="4.7" class="wm"/>
<rect x="190" y="426.44" width="4.7" height="4.7" class="wm"/>
<rect x="223.19" y="432.22" width="4.7" height="4.7" class="wm"/>
<rect x="256.38" y="422.6" width="4.7" height="4.7" class="wm"/>
<rect x="289.56" y="430.29" width="4.7" height="4.7" class="wm"/>
<rect x="322.75" y="430.29" width="4.7" height="4.7" class="wm"/>
<circle cx="59.6" cy="447.13" r="2.8"/>
<circle cx="92.79" cy="389.55" r="2.8"/>
<circle cx="125.97" cy="373.78" r="2.8"/>
<circle cx="159.16" cy="367.24" r="2.8"/>
<circle cx="192.35" cy="356.97" r="2.8"/>
<circle cx="225.54" cy="356.97" r="2.8"/>
<circle cx="258.73" cy="350.31" r="2.8"/>
<circle cx="291.91" cy="356.97" r="2.8"/>
<circle cx="325.1" cy="361.21" r="2.8"/>
<rect x="56.9" y="444.56" width="5.4" height="5.4"/>
<rect x="90.09" y="384.8" width="5.4" height="5.4"/>
<rect x="123.27" y="377.36" width="5.4" height="5.4"/>
<rect x="156.46" y="372.61" width="5.4" height="5.4"/>
<rect x="189.65" y="385.31" width="5.4" height="5.4"/>
<rect x="222.84" y="390.7" width="5.4" height="5.4"/>
<rect x="256.03" y="391.85" width="5.4" height="5.4"/>
<rect x="289.21" y="396.98" width="5.4" height="5.4"/>
<rect x="322.4" y="400.06" width="5.4" height="5.4"/>
<use href="#hs" x="93.39" y="377.7"/>
<use href="#hs" x="93.39" y="400"/>
<use href="#hs" x="126.57" y="364.3"/>
<use href="#hs" x="126.57" y="390.5"/>
<use href="#hs" x="159.76" y="359.8"/>
<use href="#hs" x="159.76" y="385.1"/>
<use href="#hs" x="192.95" y="347.5"/>
<use href="#hs" x="226.14" y="348.7"/>
<use href="#hs" x="259.33" y="341.2"/>
<use href="#hs" x="292.51" y="347.5"/>
<use href="#hs" x="325.7" y="351.5"/>
<use href="#hs" x="188.3" y="377.7"/>
<text x="190.8" y="380.7" class="an">,</text>
<text x="197.5" y="380.7" class="an" text-anchor="middle">§</text>
<use href="#hs" x="222.64" y="380.7"/>
<text x="225.14" y="383.7" class="an">,</text>
<text x="231.84" y="383.7" class="an" text-anchor="middle">§</text>
<use href="#hs" x="253.68" y="384.5"/>
<text x="256.18" y="387.5" class="an">,</text>
<text x="262.88" y="387.5" class="an" text-anchor="middle">§</text>
<use href="#hs" x="286.31" y="387.5"/>
<text x="288.81" y="390.5" class="an">,</text>
<text x="295.51" y="390.5" class="an" text-anchor="middle">§</text>
<use href="#hs" x="320.2" y="390.6"/>
<text x="322.7" y="393.6" class="an">,</text>
<text x="329.4" y="393.6" class="an" text-anchor="middle">§</text>
<line x1="95.4" y1="263.95" x2="120.6" y2="263.95" class="lgl"/>
<circle cx="108" cy="263.95" r="2.4" class="wm"/>
<text x="124" y="267.5" class="lg" font-size="10.7" textLength="36.44" lengthAdjust="spacingAndGlyphs">vehicle</text>
<path d="M95.4 278.95H100.2M116 278.95H120.6" class="lgl"/>
<circle cx="108" cy="278.95" r="2.8"/>
<text x="123.26" y="282.5" class="lg" font-size="10.7" textLength="5.5" lengthAdjust="spacingAndGlyphs">1</text><rect x="123.43" y="280.51" width="2.12" height="3.49" fill="#fff"/><rect x="126.94" y="280.51" width="1.99" height="3.49" fill="#fff"/>
<text x="131.72" y="282.5" class="lg" font-size="10.7" textLength="8.66" lengthAdjust="spacingAndGlyphs">m</text>
<text x="141.82" y="282.5" class="lg" font-size="10.7" textLength="21.93" lengthAdjust="spacingAndGlyphs">g/kg</text>
<text x="167.27" y="282.5" class="lg" font-size="10.7" textLength="47.16" lengthAdjust="spacingAndGlyphs">bortezom</text>
<text x="215.21" y="282.5" class="lg" font-size="10.7" textLength="9.46" lengthAdjust="spacingAndGlyphs">ib</text>
<line x1="95.4" y1="294.15" x2="120.6" y2="294.15" class="lgl"/>
<rect x="105.6" y="291.75" width="4.8" height="4.8" class="wm"/>
<text x="123.38" y="297.7" class="lg" font-size="10.7" textLength="30.86" lengthAdjust="spacingAndGlyphs">2 g/kg</text>
<text x="157.43" y="297.7" class="lg" font-size="10.7" textLength="23.35" lengthAdjust="spacingAndGlyphs">LEM</text>
<path d="M95.4 309.25H100.2M116 309.25H120.6" class="lgl"/>
<rect x="105.2" y="306.45" width="5.6" height="5.6"/>
<text x="123.26" y="312.8" class="lg" font-size="10.7" textLength="5.5" lengthAdjust="spacingAndGlyphs">1</text><rect x="123.43" y="311.31" width="2.12" height="2.69" fill="#fff"/><rect x="126.94" y="311.31" width="1.99" height="2.69" fill="#fff"/>
<text x="131.72" y="312.8" class="lg" font-size="10.7" textLength="8.66" lengthAdjust="spacingAndGlyphs">m</text>
<text x="141.82" y="312.8" class="lg" font-size="10.7" textLength="21.93" lengthAdjust="spacingAndGlyphs">g/kg</text>
<text x="167.48" y="312.8" class="lg" font-size="10.7" textLength="46.34" lengthAdjust="spacingAndGlyphs">bortezom</text>
<text x="215.24" y="312.8" class="lg" font-size="10.7" textLength="9" lengthAdjust="spacingAndGlyphs">ib</text>
<text x="228.13" y="312.8" class="lg" font-size="10.7" textLength="6.13" lengthAdjust="spacingAndGlyphs">+</text>
<text x="236.97" y="312.8" class="lg" font-size="10.7" textLength="31.18" lengthAdjust="spacingAndGlyphs">2 g/kg</text>
<text x="271.35" y="312.8" class="lg" font-size="10.7" textLength="22.82" lengthAdjust="spacingAndGlyphs">LEM</text>
<line x1="403.9" y1="446.45" x2="679.5" y2="446.45" class="gr"/>
<line x1="403.9" y1="420.6" x2="679.5" y2="420.6" class="gr"/>
<line x1="403.9" y1="394.75" x2="679.5" y2="394.75" class="gr"/>
<line x1="403.9" y1="368.9" x2="679.5" y2="368.9" class="gr"/>
<line x1="403.9" y1="343.05" x2="679.5" y2="343.05" class="gr"/>
<line x1="403.9" y1="317.2" x2="679.5" y2="317.2" class="gr"/>
<line x1="403.3" y1="317.2" x2="403.3" y2="475" class="ax"/>
<line x1="400.3" y1="472.3" x2="679.5" y2="472.3" class="ax"/>
<line x1="400.3" y1="472.3" x2="403.3" y2="472.3" class="ax"/>
<text x="388.2" y="475.78" class="tk" font-size="10.8" textLength="5.83" lengthAdjust="spacingAndGlyphs">0</text>
<line x1="400.3" y1="446.45" x2="403.3" y2="446.45" class="ax"/>
<text x="388.2" y="449.93" class="tk" font-size="10.8" textLength="5.83" lengthAdjust="spacingAndGlyphs">2</text>
<line x1="400.3" y1="420.6" x2="403.3" y2="420.6" class="ax"/>
<text x="387.84" y="424.08" class="tk" font-size="10.8" textLength="5.83" lengthAdjust="spacingAndGlyphs">4</text>
<line x1="400.3" y1="394.75" x2="403.3" y2="394.75" class="ax"/>
<text x="388.15" y="398.23" class="tk" font-size="10.8" textLength="5.83" lengthAdjust="spacingAndGlyphs">6</text>
<line x1="400.3" y1="368.9" x2="403.3" y2="368.9" class="ax"/>
<text x="388.1" y="372.38" class="tk" font-size="10.8" textLength="5.83" lengthAdjust="spacingAndGlyphs">8</text>
<line x1="400.3" y1="343.05" x2="403.3" y2="343.05" class="ax"/>
<text x="382.39" y="346.53" class="tk" font-size="10.8" textLength="11.65" lengthAdjust="spacingAndGlyphs">10</text><rect x="382.6" y="345.03" width="2.22" height="2.97" fill="#fff"/><rect x="386.29" y="345.03" width="2.08" height="2.97" fill="#fff"/>
<line x1="400.3" y1="317.2" x2="403.3" y2="317.2" class="ax"/>
<text x="382.39" y="320.68" class="tk" font-size="10.8" textLength="11.65" lengthAdjust="spacingAndGlyphs">12</text><rect x="382.6" y="319.18" width="2.22" height="2.82" fill="#fff"/><rect x="386.29" y="319.18" width="2.08" height="2.82" fill="#fff"/>
<line x1="403.3" y1="472.3" x2="403.3" y2="475" class="ax"/>
<text x="400.3" y="487.82" class="tk" font-size="11.2" textLength="5.61" lengthAdjust="spacingAndGlyphs">0</text>
<line x1="436.49" y1="472.3" x2="436.49" y2="475" class="ax"/>
<text x="433.54" y="487.82" class="tk" font-size="11.2" textLength="5.61" lengthAdjust="spacingAndGlyphs">3</text>
<line x1="469.68" y1="472.3" x2="469.68" y2="475" class="ax"/>
<text x="466.68" y="487.82" class="tk" font-size="11.2" textLength="5.61" lengthAdjust="spacingAndGlyphs">6</text>
<line x1="502.86" y1="472.3" x2="502.86" y2="475" class="ax"/>
<text x="499.87" y="487.82" class="tk" font-size="11.2" textLength="5.61" lengthAdjust="spacingAndGlyphs">9</text>
<line x1="536.05" y1="472.3" x2="536.05" y2="475" class="ax"/>
<text x="530.13" y="487.82" class="tk" font-size="11.2" textLength="11.21" lengthAdjust="spacingAndGlyphs">12</text><rect x="530.31" y="486.28" width="2.15" height="2.72" fill="#fff"/><rect x="533.89" y="486.28" width="2.02" height="2.72" fill="#fff"/>
<line x1="569.24" y1="472.3" x2="569.24" y2="475" class="ax"/>
<text x="563.24" y="487.82" class="tk" font-size="11.2" textLength="11.21" lengthAdjust="spacingAndGlyphs">15</text><rect x="563.43" y="486.28" width="2.15" height="2.72" fill="#fff"/><rect x="567" y="486.28" width="2.02" height="2.72" fill="#fff"/>
<line x1="602.42" y1="472.3" x2="602.42" y2="475" class="ax"/>
<text x="596.45" y="487.82" class="tk" font-size="11.2" textLength="11.21" lengthAdjust="spacingAndGlyphs">18</text><rect x="596.64" y="486.28" width="2.15" height="2.72" fill="#fff"/><rect x="600.21" y="486.28" width="2.02" height="2.72" fill="#fff"/>
<line x1="635.61" y1="472.3" x2="635.61" y2="475" class="ax"/>
<text x="629.77" y="487.82" class="tk" font-size="11.2" textLength="11.21" lengthAdjust="spacingAndGlyphs">21</text><rect x="635.56" y="486.28" width="2.15" height="2.72" fill="#fff"/><rect x="639.13" y="486.28" width="2.02" height="2.72" fill="#fff"/>
<line x1="668.8" y1="472.3" x2="668.8" y2="475" class="ax"/>
<text x="662.85" y="487.82" class="tk" font-size="11.2" textLength="11.21" lengthAdjust="spacingAndGlyphs">24</text>
<polyline points="403.3,427.55 436.49,417.86 469.68,414.24 502.86,413.33 536.05,405.19 569.24,407.13 602.42,407.13 635.61,405.19 668.8,407.13" class="sl"/>
<polyline points="403.3,424.32 436.49,409.84 469.68,417.86 502.86,409.46 536.05,405.19 569.24,409.33 602.42,407.13 635.61,404.8 668.8,407.13" class="sl"/>
<polyline points="403.3,424.58 436.49,370.29 469.68,358.27 502.86,357.76 536.05,349.35 569.24,351.03 602.42,345.22 635.61,347.16 668.8,352.84" class="dl" stroke-dashoffset="9.85"/>
<polyline points="403.3,424.58 436.49,377.66 469.68,358.27 502.86,361.25 536.05,369.26 569.24,381.41 602.42,386.06 635.61,387.22 668.8,390.71" class="dl" stroke-dashoffset="9.08"/>
<path d="M469.68 414.24V410.36M467.18 410.36H472.18" class="eb"/>
<path d="M569.24 407.13V403.25M566.74 403.25H571.74" class="eb"/>
<path d="M635.61 405.19V400.02M633.11 400.02H638.11" class="eb"/>
<path d="M436.49 370.29V365.77M433.99 365.77H438.99" class="eb"/>
<path d="M469.68 358.27V354.14M467.18 354.14H472.18" class="eb"/>
<path d="M502.86 357.76V352.84M500.36 352.84H505.36" class="eb"/>
<path d="M635.61 347.16V343.8M633.11 343.8H638.11" class="eb"/>
<path d="M569.24 381.41V376.75M566.74 376.75H571.74" class="eb"/>
<path d="M635.61 387.22V382.96M633.11 382.96H638.11" class="eb"/>
<circle cx="403.3" cy="427.55" r="2.4" class="wm"/>
<circle cx="436.49" cy="417.86" r="2.4" class="wm"/>
<circle cx="469.68" cy="414.24" r="2.4" class="wm"/>
<circle cx="502.86" cy="413.33" r="2.4" class="wm"/>
<circle cx="536.05" cy="405.19" r="2.4" class="wm"/>
<circle cx="569.24" cy="407.13" r="2.4" class="wm"/>
<circle cx="602.42" cy="407.13" r="2.4" class="wm"/>
<circle cx="635.61" cy="405.19" r="2.4" class="wm"/>
<circle cx="668.8" cy="407.13" r="2.4" class="wm"/>
<rect x="400.95" y="421.97" width="4.7" height="4.7" class="wm"/>
<rect x="434.14" y="407.49" width="4.7" height="4.7" class="wm"/>
<rect x="467.32" y="415.51" width="4.7" height="4.7" class="wm"/>
<rect x="500.51" y="407.11" width="4.7" height="4.7" class="wm"/>
<rect x="533.7" y="402.84" width="4.7" height="4.7" class="wm"/>
<rect x="566.89" y="406.98" width="4.7" height="4.7" class="wm"/>
<rect x="600.07" y="404.78" width="4.7" height="4.7" class="wm"/>
<rect x="633.26" y="402.45" width="4.7" height="4.7" class="wm"/>
<rect x="666.45" y="404.78" width="4.7" height="4.7" class="wm"/>
<circle cx="403.3" cy="424.58" r="2.8"/>
<circle cx="436.49" cy="370.29" r="2.8"/>
<circle cx="469.68" cy="358.27" r="2.8"/>
<circle cx="502.86" cy="357.76" r="2.8"/>
<circle cx="536.05" cy="349.35" r="2.8"/>
<circle cx="569.24" cy="351.03" r="2.8"/>
<circle cx="602.42" cy="345.22" r="2.8"/>
<circle cx="635.61" cy="347.16" r="2.8"/>
<circle cx="668.8" cy="352.84" r="2.8"/>
<rect x="400.6" y="421.88" width="5.4" height="5.4"/>
<rect x="433.79" y="374.96" width="5.4" height="5.4"/>
<rect x="466.98" y="355.57" width="5.4" height="5.4"/>
<rect x="500.16" y="358.55" width="5.4" height="5.4"/>
<rect x="533.35" y="366.56" width="5.4" height="5.4"/>
<rect x="566.54" y="378.71" width="5.4" height="5.4"/>
<rect x="599.72" y="383.36" width="5.4" height="5.4"/>
<rect x="632.91" y="384.52" width="5.4" height="5.4"/>
<rect x="666.1" y="388.01" width="5.4" height="5.4"/>
<use href="#hs" x="437.09" y="359.8"/>
<use href="#hs" x="437.09" y="388.9"/>
<use href="#hs" x="470.28" y="347"/>
<use href="#hs" x="470.28" y="368.7"/>
<use href="#hs" x="503.46" y="347"/>
<use href="#hs" x="503.46" y="371.1"/>
<use href="#hs" x="536.65" y="340.5"/>
<use href="#hs" x="536.65" y="377.4"/>
<use href="#hs" x="569.84" y="342.1"/>
<use href="#hs" x="603.02" y="337"/>
<use href="#hs" x="636.21" y="338.9"/>
<use href="#hs" x="669.4" y="345.2"/>
<use href="#hs" x="564.74" y="370.5"/>
<text x="567.24" y="373.5" class="an">,</text>
<text x="573.94" y="373.5" class="an" text-anchor="middle">§</text>
<use href="#hs" x="597.92" y="376.8"/>
<text x="600.42" y="379.8" class="an">,</text>
<text x="607.12" y="379.8" class="an" text-anchor="middle">§</text>
<use href="#hs" x="631.11" y="376.4"/>
<text x="633.61" y="379.4" class="an">,</text>
<text x="640.31" y="379.4" class="an" text-anchor="middle">§</text>
<text x="669.4" y="384" class="an" text-anchor="middle">§</text>
<line x1="439.8" y1="264.35" x2="465" y2="264.35" class="lgl"/>
<circle cx="452.4" cy="264.35" r="2.4" class="wm"/>
<text x="468.2" y="267.9" class="lg" font-size="10.7" textLength="36.44" lengthAdjust="spacingAndGlyphs">vehicle</text>
<path d="M439.8 279.85H444.6M460.4 279.85H465" class="lgl"/>
<circle cx="452.4" cy="279.85" r="2.8"/>
<text x="467.46" y="283.4" class="lg" font-size="10.7" textLength="5.5" lengthAdjust="spacingAndGlyphs">1</text><rect x="467.63" y="281.51" width="2.12" height="3.49" fill="#fff"/><rect x="471.14" y="281.51" width="1.99" height="3.49" fill="#fff"/>
<text x="475.92" y="283.4" class="lg" font-size="10.7" textLength="8.66" lengthAdjust="spacingAndGlyphs">m</text>
<text x="486.02" y="283.4" class="lg" font-size="10.7" textLength="21.93" lengthAdjust="spacingAndGlyphs">g/kg</text>
<text x="511.47" y="283.4" class="lg" font-size="10.7" textLength="47.16" lengthAdjust="spacingAndGlyphs">bortezom</text>
<text x="559.41" y="283.4" class="lg" font-size="10.7" textLength="9.46" lengthAdjust="spacingAndGlyphs">ib</text>
<line x1="439.8" y1="294.75" x2="465" y2="294.75" class="lgl"/>
<rect x="450" y="292.35" width="4.8" height="4.8" class="wm"/>
<text x="467.58" y="298.3" class="lg" font-size="10.7" textLength="30.86" lengthAdjust="spacingAndGlyphs">2 g/kg</text>
<text x="501.63" y="298.3" class="lg" font-size="10.7" textLength="23.35" lengthAdjust="spacingAndGlyphs">LEM</text>
<path d="M439.8 309.95H444.6M460.4 309.95H465" class="lgl"/>
<rect x="449.6" y="307.15" width="5.6" height="5.6"/>
<text x="467.46" y="313.5" class="lg" font-size="10.7" textLength="5.5" lengthAdjust="spacingAndGlyphs">1</text><rect x="467.63" y="312.01" width="2.12" height="2.99" fill="#fff"/><rect x="471.14" y="312.01" width="1.99" height="2.99" fill="#fff"/>
<text x="475.92" y="313.5" class="lg" font-size="10.7" textLength="8.66" lengthAdjust="spacingAndGlyphs">m</text>
<text x="486.02" y="313.5" class="lg" font-size="10.7" textLength="21.93" lengthAdjust="spacingAndGlyphs">g/kg</text>
<text x="511.68" y="313.5" class="lg" font-size="10.7" textLength="46.34" lengthAdjust="spacingAndGlyphs">bortezom</text>
<text x="559.44" y="313.5" class="lg" font-size="10.7" textLength="9" lengthAdjust="spacingAndGlyphs">ib</text>
<text x="572.33" y="313.5" class="lg" font-size="10.7" textLength="6.13" lengthAdjust="spacingAndGlyphs">+</text>
<text x="581.17" y="313.5" class="lg" font-size="10.7" textLength="31.18" lengthAdjust="spacingAndGlyphs">2 g/kg</text>
<text x="615.55" y="313.5" class="lg" font-size="10.7" textLength="22.82" lengthAdjust="spacingAndGlyphs">LEM</text>
<text x="3.56" y="11.7" class="ti" font-size="13.6" textLength="9.7" lengthAdjust="spacingAndGlyphs">A</text>
<text x="16.93" y="11.7" class="ti" font-size="13.6" textLength="14.94" lengthAdjust="spacingAndGlyphs">10</text><rect x="17.32" y="9.91" width="2.72" height="3.09" fill="#fff"/><rect x="21.93" y="9.91" width="2.55" height="3.09" fill="#fff"/>
<text x="35.8" y="6.7" class="ti" font-size="9.0" textLength="4.61" lengthAdjust="spacingAndGlyphs">o</text>
<text x="40.57" y="11.7" class="ti" font-size="13.6" textLength="9.59" lengthAdjust="spacingAndGlyphs">C</text>
<text x="356.58" y="11.8" class="ti" font-size="13.6" textLength="10.18" lengthAdjust="spacingAndGlyphs">B</text>
<text x="370.46" y="11.8" class="ti" font-size="13.6" textLength="26.44" lengthAdjust="spacingAndGlyphs">0.16</text><rect x="382.19" y="10.01" width="2.74" height="2.99" fill="#fff"/><rect x="386.84" y="10.01" width="2.57" height="2.99" fill="#fff"/>
<text x="400.61" y="11.8" class="ti" font-size="13.6" textLength="8.95" lengthAdjust="spacingAndGlyphs">g</text>
<text x="3.61" y="266.9" class="ti" font-size="13.6" textLength="8.82" lengthAdjust="spacingAndGlyphs">C</text>
<text x="17.67" y="266.9" class="ti" font-size="13.6" textLength="18.5" lengthAdjust="spacingAndGlyphs">0.4</text>
<text x="39.91" y="266.9" class="ti" font-size="13.6" textLength="9.07" lengthAdjust="spacingAndGlyphs">g</text>
<text x="356.71" y="267.1" class="ti" font-size="13.6" textLength="9.86" lengthAdjust="spacingAndGlyphs">D</text>
<text x="370.82" y="267.1" class="ti" font-size="13.6" textLength="18.85" lengthAdjust="spacingAndGlyphs">1.4</text><rect x="371.22" y="265.21" width="2.74" height="2.79" fill="#fff"/><rect x="375.86" y="265.21" width="2.57" height="2.79" fill="#fff"/>
<text x="392.91" y="267.1" class="ti" font-size="13.6" textLength="9.07" lengthAdjust="spacingAndGlyphs">g</text>
<text transform="translate(10.5,184.65) rotate(-90)" class="at" font-size="12.1" textLength="104.35" lengthAdjust="spacingAndGlyphs">Withdrawal latency</text>
<text transform="translate(24.2,158.93) rotate(-90)" class="at" font-size="11.6" textLength="55.15" lengthAdjust="spacingAndGlyphs">(seconds)</text>
<text transform="translate(367.8,203.14) rotate(-90)" class="at" font-size="11.8" textLength="137.74" lengthAdjust="spacingAndGlyphs">Aversive response score</text>
<text transform="translate(19.8,462.74) rotate(-90)" class="at" font-size="11.8" textLength="138.24" lengthAdjust="spacingAndGlyphs">Aversive response score</text>
<text transform="translate(367.8,458.84) rotate(-90)" class="at" font-size="11.8" textLength="137.84" lengthAdjust="spacingAndGlyphs">Aversive response score</text>
<text x="185.04" y="243.6" class="at" font-size="10.8" textLength="19.75" lengthAdjust="spacingAndGlyphs">day</text>
<text x="529.44" y="243" class="at" font-size="10.8" textLength="19.65" lengthAdjust="spacingAndGlyphs">day</text>
<text x="183.44" y="499.2" class="at" font-size="10.8" textLength="19.96" lengthAdjust="spacingAndGlyphs">day</text>
<text x="529.06" y="499.6" class="at" font-size="10.8" textLength="19.14" lengthAdjust="spacingAndGlyphs">day</text>
<text x="216.97" y="231.6" class="at" font-size="10.4" textLength="16.36" lengthAdjust="spacingAndGlyphs">day</text>
</svg>
</div></body></html>
